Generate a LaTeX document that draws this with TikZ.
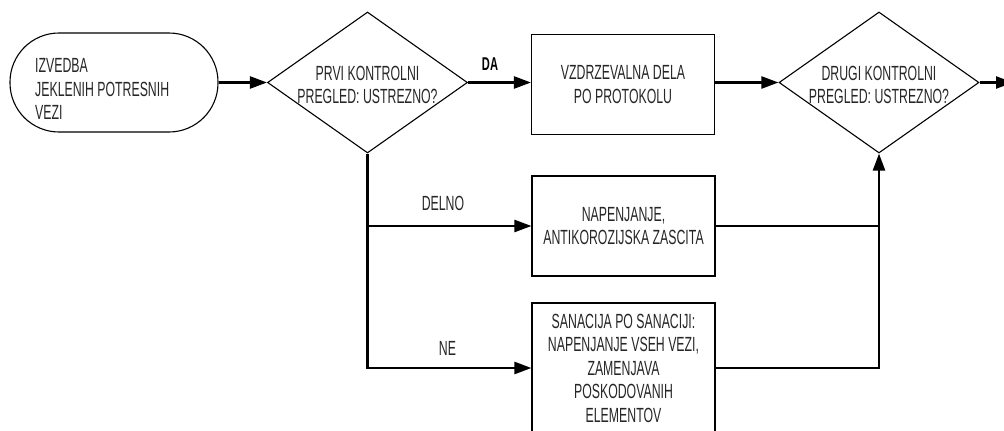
\documentclass[tikz,border=0pt]{standalone}
\usepackage{fontspec}
\setmainfont{Liberation Sans}[FakeStretch=0.6]
\usetikzlibrary{shapes.geometric,arrows.meta,calc}
\begin{document}
\begin{tikzpicture}[x=1pt,y=-1pt,
  shp/.style={draw=black, line width=1.1pt},
  conn/.style={line width=2.4pt},
  arr/.style={conn, -{Triangle[length=17pt,width=12pt]}},
  txt/.style={font=\fontsize{20.5}{23.5}\selectfont, text=black!85, inner sep=0pt, align=center},
  box/.style={shp, rectangle, minimum width=183pt, minimum height=100pt, inner sep=0pt, txt},
  dia/.style={shp, diamond, minimum width=200pt, minimum height=141pt, inner sep=0pt},
  term/.style={shp, rectangle, rounded corners=49pt, minimum width=208pt, minimum height=99pt, inner sep=0pt}
]
\clip (0,0) rectangle (1004,431);
\fill[white] (0,0) rectangle (1004,431);

\node[term] (start) at (114,82.5) {};
\node[txt, align=left, anchor=west] (starttxt) at (35,89) {IZVEDBA\\JEKLENIH POTRESNIH\\VEZI};

\node[dia] (d1) at (367.5,82.5) {};
\node[txt] (d1t) at (367.5,85) {PRVI KONTROLNI\\PREGLED: USTREZNO?};

\node[box] (b2) at (623,84.5) {VZDRZEVALNA DELA\\PO PROTOKOLU};

\node[dia] (d2) at (879,82.5) {};
\node[txt] (d2t) at (879,85) {DRUGI KONTROLNI\\PREGLED: USTREZNO?};

\node[box] (b3) at (623.5,226) {NAPENJANJE,\\ANTIKOROZIJSKA ZASCITA};
\node[box, minimum height=130pt] (b4) at (623.5,368) {SANACIJA PO SANACIJI:\\NAPENJANJE VSEH VEZI,\\ZAMENJAVA\\POSKODOVANIH\\ELEMENTOV};

\coordinate (out) at (1013,82.5);

\node[txt, font={\fontsize{18.5}{20}\selectfont\bfseries}, text=black] (da) at (490,64) {DA};
\node[txt] (delno) at (443,203) {DELNO};
\node[txt] (ne) at (447.5,348.5) {NE};

\draw[arr] (start.east) -- (d1.west);
\draw[arr] (d1.east) -- (d1.east -| b2.west);
\draw[arr] (d2.west -| b2.east) -- (d2.west);
\draw[arr] (d2.east) -- (out);
\draw[arr] (d1.south) |- (b4.west);
\draw[arr] (d1.south |- b3.west) -- (b3.west);
\draw[conn] (b3.east) -- (b3.east -| d2.south);
\draw[arr] (b4.east) -| (d2.south);
\end{tikzpicture}
\end{document}
